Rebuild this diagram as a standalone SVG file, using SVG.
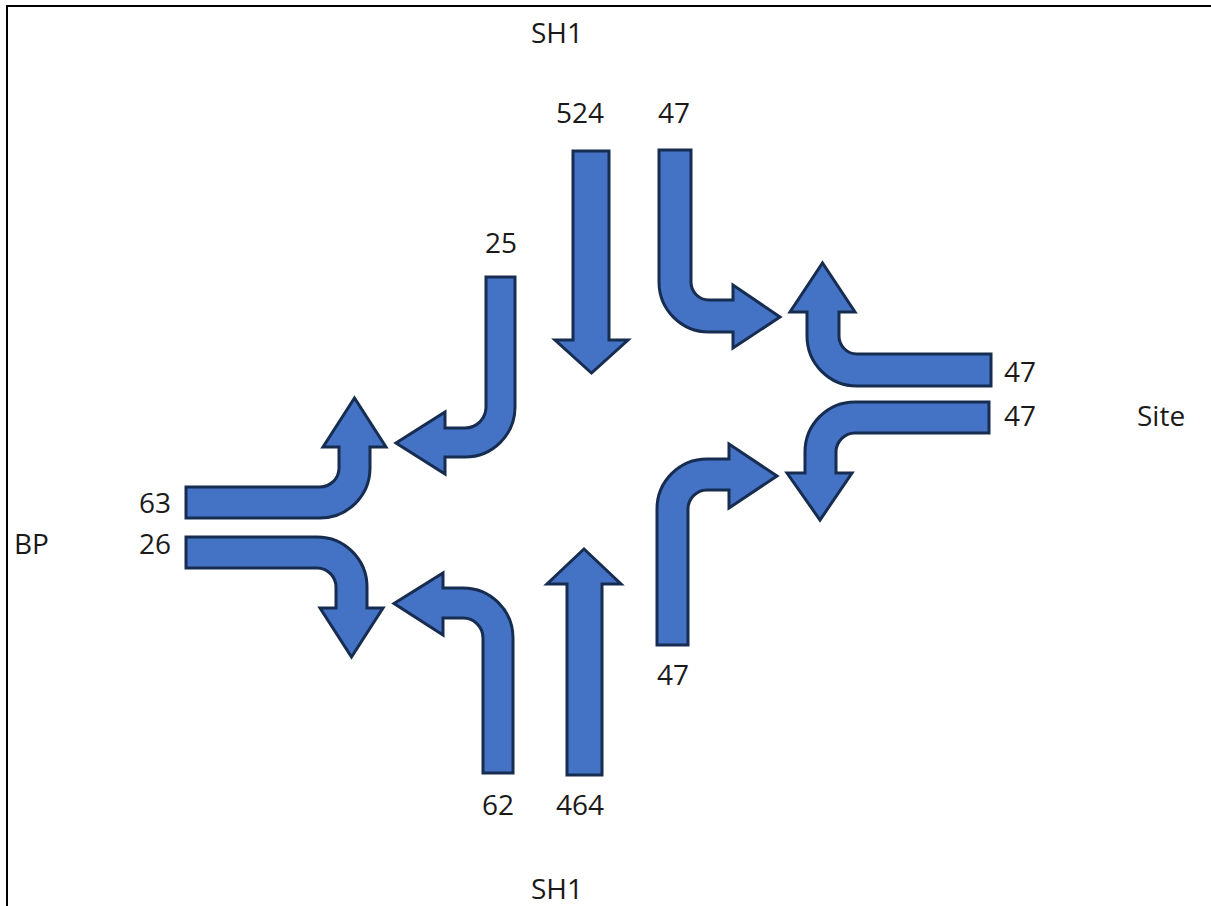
<svg xmlns="http://www.w3.org/2000/svg" width="1211" height="906" viewBox="0 0 1211 906">
<style>
.arr{fill:#4472C4;stroke:#172C51;stroke-width:3;stroke-linejoin:miter}
.lbl{font-family:"Open Sans","Liberation Sans",sans-serif;font-size:28px;fill:#1a1a1a}
.frame{stroke:#000;stroke-width:2;fill:none}
</style>
<rect width="1211" height="906" fill="#fff"/>
<path class="frame" d="M7,906 V6 H1211"/>
<g id="arrows">
<g id="n-sh1-north-through"><path class="arr" d="M573,151 H609 V340 H628 L591.5,373 L555,340 H573 Z"/></g>
<g id="n-sh1-north-left"><path class="arr" d="M659,150 V282 A50,50 0 0 0 709,332 H733 V348 L780,317 L733,285 V300 H709 A18,18 0 0 1 691,282 V150 Z"/></g>
<g id="n-sh1-north-right"><path class="arr" d="M486,277 H515 V407 A50,50 0 0 1 465,457 H445 V474 L396,443 L445,412 V428 H465 A21,21 0 0 0 486,407 V277 Z"/></g>
<g id="n-bp-left"><path class="arr" d="M186,487 H320 A19,19 0 0 0 339,468 V447 H323 L354.5,398 L386,447 H370 V468 A50,50 0 0 1 320,518 H186 Z"/></g>
<g id="n-bp-right"><path class="arr" d="M186,537 H317 A50,50 0 0 1 367,587 V608 H383 L351.5,657 L320,608 H336 V587 A19,19 0 0 0 317,568 H186 Z"/></g>
<g id="n-sh1-south-left"><path class="arr" d="M483,773 H513 V638 A50,50 0 0 0 463,588 H443 V573 L394,603.5 L443,635 V618 H463 A20,20 0 0 1 483,638 V773 Z"/></g>
<g id="n-sh1-south-through"><path class="arr" d="M567,775 V584 H547 L584,549 L621,584 H602 V775 Z"/></g>
<g id="n-sh1-south-right"><path class="arr" d="M657,645 V509 A50,50 0 0 1 707,459 H729 V444 L777,476 L729,508 V490 H707 A19,19 0 0 0 688,509 V645 Z"/></g>
<g id="n-site-right"><path class="arr" d="M991,354 V386 H857 A50,50 0 0 1 807,336 V312 H790 L822.5,263 L855,312 H839 V336 A18,18 0 0 0 857,354 Z"/></g>
<g id="n-site-left"><path class="arr" d="M989,402 H855 A50,50 0 0 0 805,452 V473 H787 L820,520 L852,473 H836 V452 A19,19 0 0 1 855,433 H989 Z"/></g>
</g>
<g id="labels">
<text class="lbl" x="531" y="43">SH1</text>
<text class="lbl" x="556" y="123">524</text>
<text class="lbl" x="658" y="123">47</text>
<text class="lbl" x="485" y="253">25</text>
<text class="lbl" x="1004" y="382">47</text>
<text class="lbl" x="1004" y="426">47</text>
<text class="lbl" x="1137" y="426">Site</text>
<text class="lbl" x="139" y="513">63</text>
<text class="lbl" x="139" y="554">26</text>
<text class="lbl" x="14" y="554">BP</text>
<text class="lbl" x="657" y="685">47</text>
<text class="lbl" x="482" y="815">62</text>
<text class="lbl" x="556" y="815">464</text>
<text class="lbl" x="531" y="899">SH1</text>
</g>
</svg>
